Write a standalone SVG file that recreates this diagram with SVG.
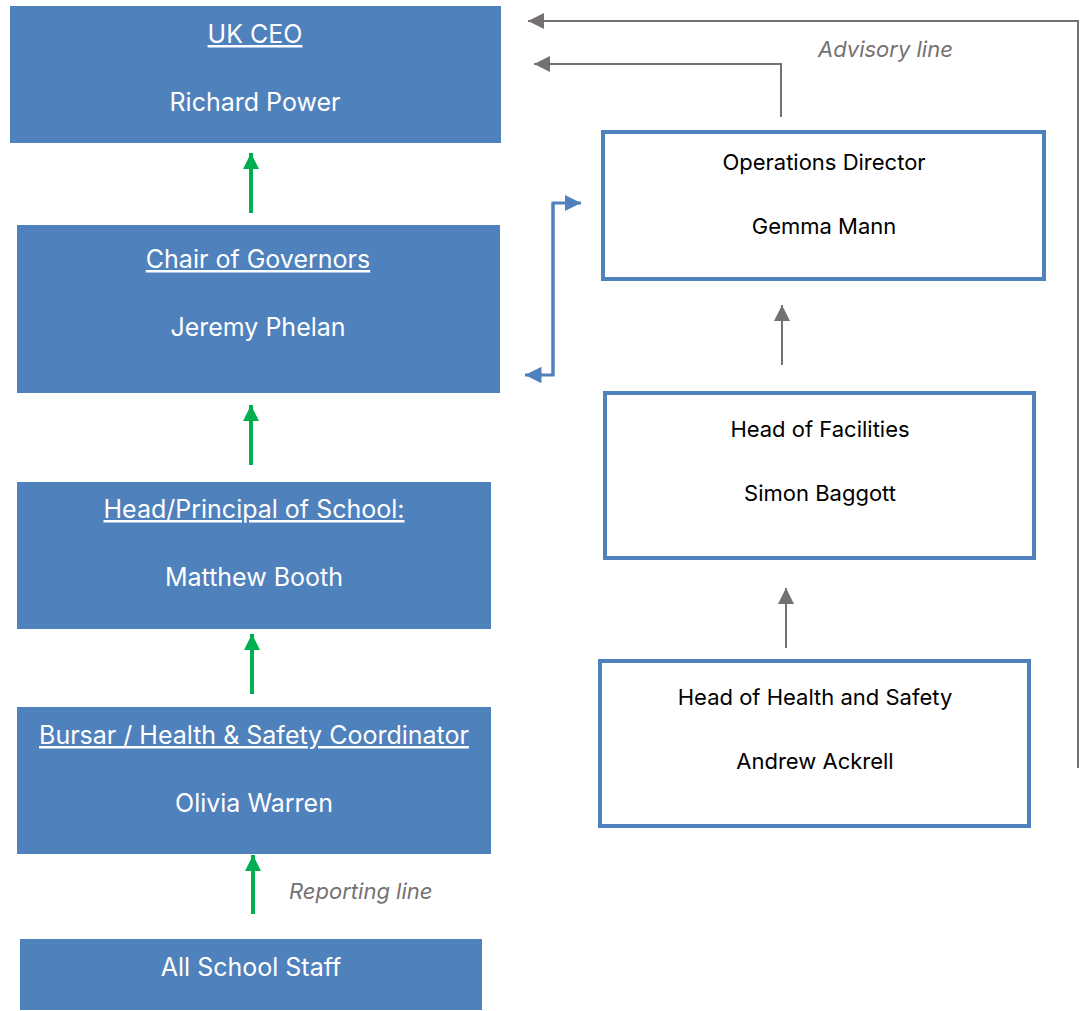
<svg xmlns="http://www.w3.org/2000/svg" width="1085" height="1011" viewBox="0 0 1085 1011">
<style>
.fb{fill:#4F81BD}
.ob{fill:#fff;stroke:#4F81BD;stroke-width:4}
.tw{fill:#fff;font-family:Inter,"Liberation Sans",Arial,sans-serif;font-size:25px;text-anchor:middle}
.tk{fill:#000;font-family:Inter,"Liberation Sans",Arial,sans-serif;font-size:22px;text-anchor:middle}
.u{text-decoration:underline}
.lbl{fill:#767171;font-family:Inter,"Liberation Sans",Arial,sans-serif;font-size:22px;font-style:italic}
.g{stroke:#00B050;stroke-width:4;fill:none}
.gr{stroke:#767171;stroke-width:2;fill:none}
.bl{stroke:#4F81BD;stroke-width:3;fill:none}
</style>
<defs>
<marker id="mg" viewBox="0 0 10 10" refX="10" refY="5" markerWidth="4" markerHeight="4" orient="auto"><path d="M0,0L10,5L0,10z" fill="#00B050"/></marker>
<marker id="mgr" viewBox="0 0 10 10" refX="10" refY="5" markerWidth="8" markerHeight="8" orient="auto"><path d="M0,0L10,5L0,10z" fill="#767171"/></marker>
<marker id="mb" viewBox="0 0 10 10" refX="10" refY="5" markerWidth="5.5" markerHeight="5.5" orient="auto"><path d="M0,0L10,5L0,10z" fill="#4F81BD"/></marker>
</defs>
<g id="ceo"><rect class="fb" x="10" y="6" width="491" height="137"/><text class="tw u" x="255" y="43">UK CEO</text><text class="tw" x="255" y="111">Richard Power</text></g>
<g id="chair"><rect class="fb" x="17" y="225" width="483" height="168"/><text class="tw u" x="258" y="268">Chair of Governors</text><text class="tw" x="258" y="336">Jeremy Phelan</text></g>
<g id="head"><rect class="fb" x="17" y="482" width="474" height="147"/><text class="tw u" x="254" y="518">Head/Principal of School:</text><text class="tw" x="254" y="586">Matthew Booth</text></g>
<g id="bursar"><rect class="fb" x="17" y="707" width="474" height="147"/><text class="tw u" x="254" y="744">Bursar / Health &amp; Safety Coordinator</text><text class="tw" x="254" y="812">Olivia Warren</text></g>
<g id="staff"><rect class="fb" x="20" y="939" width="462" height="71"/><text class="tw" x="251" y="976">All School Staff</text></g>
<g id="ops"><rect class="ob" x="603" y="132" width="441" height="147"/><text class="tk" x="824" y="170">Operations Director</text><text class="tk" x="824" y="234">Gemma Mann</text></g>
<g id="facilities"><rect class="ob" x="605" y="393" width="429" height="165"/><text class="tk" x="820" y="437">Head of Facilities</text><text class="tk" x="820" y="501">Simon Baggott</text></g>
<g id="hs"><rect class="ob" x="600" y="661" width="429" height="165"/><text class="tk" x="815" y="705">Head of Health and Safety</text><text class="tk" x="815" y="769">Andrew Ackrell</text></g>
<g id="connectors">
<line class="g" x1="251" y1="213" x2="251" y2="153" marker-end="url(#mg)"/>
<line class="g" x1="251" y1="465" x2="251" y2="405" marker-end="url(#mg)"/>
<line class="g" x1="252" y1="694" x2="252" y2="634" marker-end="url(#mg)"/>
<line class="g" x1="253" y1="914" x2="253" y2="855" marker-end="url(#mg)"/>
<line class="gr" x1="782" y1="365" x2="782" y2="305" marker-end="url(#mgr)"/>
<line class="gr" x1="786" y1="648" x2="786" y2="588" marker-end="url(#mgr)"/>
<polyline class="gr" points="1078,768 1078,21 528,21" marker-end="url(#mgr)"/>
<polyline class="gr" points="781,117 781,64 534,64" marker-end="url(#mgr)"/>
<polyline class="bl" points="553,375 553,203 581,203" marker-end="url(#mb)"/>
<polyline class="bl" points="553,203 553,375 525,375" marker-end="url(#mb)"/>
<text class="lbl" x="818" y="57">Advisory line</text>
<text class="lbl" x="289" y="899">Reporting line</text>
</g>
</svg>
